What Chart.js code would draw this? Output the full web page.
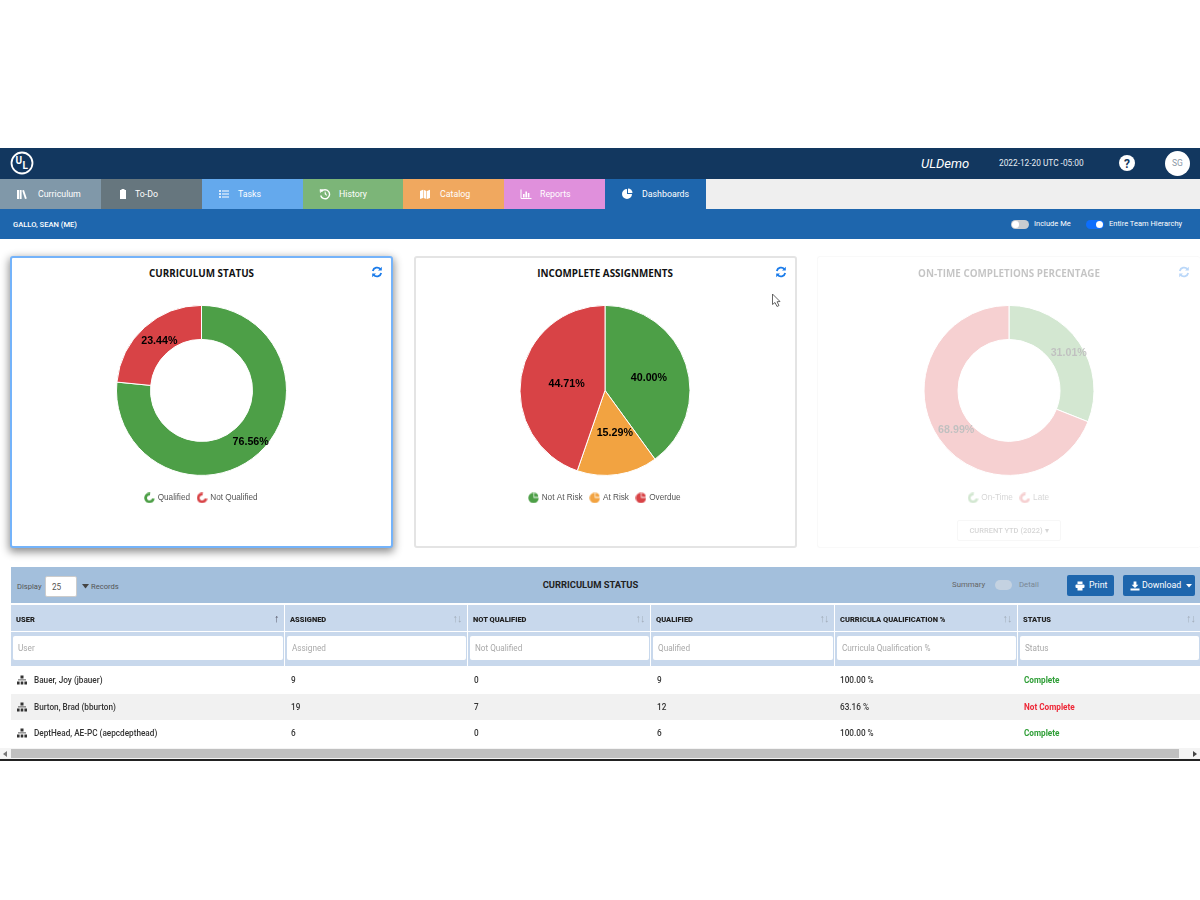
<!DOCTYPE html>
<html>
<head>
<meta charset="utf-8">
<title>Dashboards</title>
<script src="https://cdn.jsdelivr.net/npm/chart.js@4"></script>
<style>
  html, body { margin: 0; padding: 0; background: #fff; }
  body { width: 1200px; height: 900px; position: relative; overflow: hidden; font-family: Roboto, sans-serif; }
  .abs { position: absolute; }
  .box { position: absolute; box-sizing: border-box; }
  .txt { position: absolute; white-space: nowrap; line-height: 1; }
  .tab { position: absolute; top: 179px; height: 30px; color: #fff; font-size: 8.8px; line-height: 30px; }
  .tab span { position: absolute; }
  .tab svg { position: absolute; left: 16px; top: 8.5px; }
  .card-title { position: absolute; top: 265.5px; font: bold 9.85px "Open Sans", sans-serif; color: #111; white-space: nowrap; text-align: center; }
  canvas { position: absolute; }
  .hcell { position: absolute; top: 605px; height: 26px; background: #c8d8ec; font-size: 7.5px; font-weight: bold; line-height: 29px; color: #222; }
  .hcell b { position: absolute; left: 5px; }
  .hcell i { position: absolute; right: 5px; top: 0; font-style: normal; font-weight: normal; color: #a2adba; font-size: 11px; line-height: 27px; letter-spacing: -1px; }
  .fcell { position: absolute; top: 632px; height: 34px; background: #c8d8ec; }
  .fcell div { position: absolute; left: 2px; right: 1px; top: 4px; height: 24px; background: #fff; border-radius: 2px; color: #a9a9a9; font-size: 8.2px; line-height: 25px; padding-left: 5px; }
  .row { position: absolute; left: 11px; width: 1189px; height: 26px; }
  .cell { position: absolute; font-size: 8.2px; line-height: 26px; color: #333; font-weight: 500; white-space: nowrap; }
  .toggle { position: absolute; border-radius: 7px; }
</style>
</head>
<body>

<!-- top bar -->
<div class="box" style="left:0;top:148px;width:1200px;height:31px;background:#12375f"></div>
<svg class="abs" style="left:10px;top:151px" width="25" height="25" viewBox="0 0 25 25">
  <circle cx="12" cy="12" r="10.5" fill="none" stroke="#fff" stroke-width="1.8"/>
  <text x="5.5" y="13" font-size="10" font-weight="bold" fill="#fff" font-family="Roboto">U</text>
  <text x="12.5" y="18" font-size="10" font-weight="bold" fill="#fff" font-family="Roboto">L</text>
</svg>
<div class="txt" style="left:921px;top:157px;font-size:13px;font-style:italic;color:#fff">ULDemo</div>
<div class="txt" style="left:999px;top:159px;font-size:8.3px;color:#e8eef5">2022-12-20 UTC -05:00</div>
<svg class="abs" style="left:1119px;top:155px" width="16" height="16" viewBox="0 0 16 16">
  <circle cx="8" cy="8" r="8" fill="#fff"/>
  <text x="8" y="12.5" text-anchor="middle" font-size="12" font-weight="bold" fill="#12375f" font-family="Roboto">?</text>
</svg>
<div class="box" style="left:1165px;top:151px;width:25px;height:25px;border-radius:50%;background:#fff"></div>
<div class="txt" style="left:1172px;top:159px;font-size:8.5px;color:#8a97a5">SG</div>

<!-- nav tabs, filled in from navLabels -->
<div id="tabs"></div>
<div class="box" style="left:706px;top:179px;width:494px;height:30px;background:#efefef"></div>

<!-- blue strip -->
<div class="box" style="left:0;top:209px;width:1200px;height:30px;background:#1e66ad"></div>
<div class="txt" style="left:13px;top:221px;font-size:7.6px;font-weight:500;color:#fff">GALLO, SEAN (ME)</div>
<div class="toggle" style="left:1011px;top:220px;width:18px;height:9px;background:#c9ccd0"></div>
<div class="toggle" style="left:1012px;top:221px;width:7px;height:7px;background:#fff"></div>
<div class="txt" style="left:1034px;top:220px;font-size:7.5px;color:#fff">Include Me</div>
<div class="toggle" style="left:1086px;top:220px;width:18px;height:9px;background:#0d6efd"></div>
<div class="toggle" style="left:1096px;top:221px;width:7px;height:7px;background:#fff"></div>
<div class="txt" style="left:1109px;top:220px;font-size:7.5px;color:#fff">Entire Team Hierarchy</div>

<!-- card 1 -->
<div class="box" style="left:10px;top:256px;width:383px;height:292px;background:#fff;border:2.5px solid #74b3fa;border-radius:3px;box-shadow:0 3px 9px 1px rgba(0,0,0,.45)"></div>
<div class="card-title" style="left:11px;width:381px">CURRICULUM STATUS</div>
<canvas id="chartStatus" style="left:11px;top:295px" width="381" height="217"></canvas>

<!-- card 2 -->
<div class="box" style="left:413.5px;top:255.5px;width:383.5px;height:292.5px;background:#fff;border:2px solid #e4e4e4;border-radius:3px"></div>
<div class="card-title" style="left:414px;width:382px">INCOMPLETE ASSIGNMENTS</div>
<canvas id="chartAssign" style="left:414px;top:295px" width="382" height="217"></canvas>
<svg class="abs" style="left:771px;top:293px" width="11" height="15" viewBox="0 0 11 15">
  <path d="M1.5 1 L1.5 11.5 L4 9.5 L6 13.5 L8 12.5 L6 8.8 L9 8.5 Z" fill="#fff" stroke="#555" stroke-width="0.9"/>
</svg>

<!-- card 3, faded -->
<div class="abs" style="left:0;top:0;width:1200px;height:900px;opacity:.25;pointer-events:none">
  <div class="box" style="left:817px;top:256px;width:383px;height:292px;border:1.5px solid #e4e4e4;border-right:none;border-radius:3px"></div>
  <div class="card-title" style="left:818px;width:382px">ON-TIME COMPLETIONS PERCENTAGE</div>
  <canvas id="chartOnTime" style="left:818px;top:295px" width="382" height="217"></canvas>
  <div class="box" style="left:957px;top:520px;width:104px;height:21px;border:1px solid #ddd;border-radius:2px;font-size:7.5px;font-weight:500;line-height:19px;text-align:center;color:#555">CURRENT YTD (2022) ▾</div>
</div>

<!-- refresh icons -->
<svg class="abs refresh" style="left:370.5px;top:266px" width="12" height="12" viewBox="0 0 12 12"></svg>
<svg class="abs refresh" style="left:774.5px;top:266px" width="12" height="12" viewBox="0 0 12 12"></svg>
<svg class="abs refresh" style="left:1177.5px;top:266px;opacity:.3" width="12" height="12" viewBox="0 0 12 12"></svg>

<!-- table toolbar -->
<div class="box" style="left:11px;top:567px;width:1189px;height:36px;background:#a3bfdc"></div>
<div class="txt" style="left:17px;top:583px;font-size:7.6px;color:#555">Display</div>
<div class="box" style="left:45px;top:576px;width:32px;height:21px;background:#fff;border:1px solid #ccc;border-radius:2px;font-size:8.2px;line-height:20px;padding-left:6px;color:#555">25</div>
<svg class="abs" style="left:82px;top:584px" width="7" height="5" viewBox="0 0 7 5"><path d="M0 0 H7 L3.5 4.5 Z" fill="#444"/></svg>
<div class="txt" style="left:91px;top:583px;font-size:7.6px;color:#555">Records</div>
<div class="txt" style="left:11px;width:1159px;top:580px;font-size:9.4px;font-weight:bold;color:#222;text-align:center">CURRICULUM STATUS</div>
<div class="txt" style="left:952px;top:581px;font-size:7.8px;color:#666">Summary</div>
<div class="toggle" style="left:995px;top:580px;width:17px;height:10px;background:#c4d2e1"></div>
<div class="txt" style="left:1019px;top:581px;font-size:7.8px;color:#7a8794">Detail</div>
<div class="box" style="left:1067px;top:575px;width:47px;height:21px;background:#1e66ad;border-radius:2px;color:#fff;font-size:8.8px;line-height:21px;padding-left:22px">Print</div>
<svg class="abs" style="left:1075px;top:581px" width="10" height="10" viewBox="0 0 10 10">
  <g fill="#fff"><rect x="2.5" y="0.5" width="5" height="2.5"/><rect x="0.5" y="3.5" width="9" height="3.5" rx="1"/><rect x="2.5" y="6" width="5" height="3.5"/></g>
</svg>
<div class="box" style="left:1123px;top:575px;width:72px;height:21px;background:#1e66ad;border-radius:2px;color:#fff;font-size:8.8px;line-height:21px;padding-left:19px;white-space:nowrap">Download</div>
<svg class="abs" style="left:1130px;top:581px" width="10" height="10" viewBox="0 0 10 10">
  <path d="M3.6 0.5 H6.4 V3.8 H8.4 L5 7 L1.6 3.8 H3.6 Z M0.5 7.5 H9.5 V9.5 H0.5 Z" fill="#fff"/>
</svg>
<svg class="abs" style="left:1186px;top:584px" width="6" height="4" viewBox="0 0 6 4"><path d="M0 0 H6 L3 3.5 Z" fill="#fff"/></svg>

<div id="table"></div>

<!-- scrollbar -->
<div class="box" style="left:0;top:748px;width:1200px;height:11px;background:#f4f4f4"></div>
<div class="box" style="left:11px;top:749px;width:1168px;height:9px;background:#c0c0c0"></div>
<svg class="abs" style="left:3px;top:751px" width="4" height="6" viewBox="0 0 4 6"><path d="M4 0 V6 L0 3 Z" fill="#777"/></svg>
<svg class="abs" style="left:1193px;top:751px" width="4" height="6" viewBox="0 0 4 6"><path d="M0 0 V6 L4 3 Z" fill="#444"/></svg>
<div class="box" style="left:0;top:759px;width:1200px;height:1.5px;background:#222"></div>

<script>
// Nav tabs
const navLabels = ['Curriculum', 'To-Do', 'Tasks', 'History', 'Catalog', 'Reports', 'Dashboards'];
const navColors = ['#8098a9', '#66767e', '#64a9ed', '#7cb578', '#f0a85f', '#e090dc', '#1e66ad'];
const navTextLeft = [38, 34, 36, 36, 37, 36, 37];
const navIcons = [
  '<path d="M1 2 H3 V11 H1 Z M3.6 2 H5.6 V11 H3.6 Z M6.2 2.5 L8 2 L10.8 10.5 L9 11 Z" fill="#fff"/>',
  '<path d="M3 2 H4.5 V1 H7.5 V2 H9 V11 H3 Z" fill="#fff"/>',
  '<path d="M1 2.2 H3 V3.8 H1 Z M1 5.2 H3 V6.8 H1 Z M1 8.2 H3 V9.8 H1 Z M4 2.5 H11 V3.5 H4 Z M4 5.5 H11 V6.5 H4 Z M4 8.5 H11 V9.5 H4 Z" fill="#fff"/>',
  '<path d="M2.5 3.5 A4.5 4.5 0 1 1 1.7 7.5" fill="none" stroke="#fff" stroke-width="1.4"/><path d="M1 1.5 L4.2 1.8 L1.4 4.6 Z M6 3.5 V6.3 L8 7.5" fill="#fff" stroke="#fff" stroke-width="0.6"/>',
  '<path d="M1 3 L4 1.8 V10 L1 11 Z M4.6 1.8 L7.4 3 V11 L4.6 10 Z M8 3 L11 1.8 V10 L8 11 Z" fill="#fff"/>',
  '<path d="M1 1.5 V10.5 H11.5" fill="none" stroke="#fff" stroke-width="1"/><path d="M3 6 H4.6 V9.5 H3 Z M5.4 3.5 H7 V9.5 H5.4 Z M7.8 5 H9.4 V9.5 H7.8 Z" fill="#fff"/>',
  '<path d="M6 1 A5 5 0 1 0 11 6 H6 Z" fill="#fff"/><path d="M7 0.5 A4.5 4.5 0 0 1 11.5 5 H7 Z" fill="#fff"/>'
];

// Chart values, percent
const statusLabels = ['Qualified', 'Not Qualified'];
const statusValues = [76.56, 23.44];
const assignLabels = ['Not At Risk', 'At Risk', 'Overdue'];
const assignValues = [40.00, 15.29, 44.71];
const onTimeLabels = ['On-Time', 'Late'];
const onTimeValues = [31.01, 68.99];

// Table
const tableHeaders = ['USER', 'ASSIGNED', 'NOT QUALIFIED', 'QUALIFIED', 'CURRICULA QUALIFICATION %', 'STATUS'];
const tableFilters = ['User', 'Assigned', 'Not Qualified', 'Qualified', 'Curricula Qualification %', 'Status'];
const rowUsers = ['Bauer, Joy (jbauer)', 'Burton, Brad (bburton)', 'DeptHead, AE-PC (aepcdepthead)'];
const rowAssigned = [9, 19, 6];
const rowNotQualified = [0, 7, 0];
const rowQualified = [9, 12, 6];
const rowPercent = ['100.00 %', '63.16 %', '100.00 %'];
const rowStatus = ['Complete', 'Not Complete', 'Complete'];

const GREEN = '#4d9f47';
const RED = '#d84346';
const ORANGE = '#f2a341';

// Build tabs
const tabs = document.getElementById('tabs');
navLabels.forEach((label, i) => {
  const left = Math.round(i * 100.85);
  const tab = document.createElement('div');
  tab.className = 'tab';
  tab.style.left = left + 'px';
  tab.style.width = (Math.round((i + 1) * 100.85) - left) + 'px';
  tab.style.background = navColors[i];
  tab.innerHTML = `<svg width="12" height="12" viewBox="0 0 12 12">${navIcons[i]}</svg><span style="left:${navTextLeft[i]}px">${label}</span>`;
  tabs.appendChild(tab);
});

// Build table
const colEdges = [11, 285, 468, 651, 835, 1018, 1200];
const table = document.getElementById('table');
tableHeaders.forEach((h, i) => {
  const l = colEdges[i];
  const w = colEdges[i + 1] - l - (i < 5 ? 1.5 : 0);
  const arrow = i === 0 ? '<i style="color:#556">↑</i>' : '<i>↑↓</i>';
  table.insertAdjacentHTML('beforeend',
    `<div class="hcell" style="left:${l}px;width:${w}px"><b>${h}</b>${arrow}</div>` +
    `<div class="fcell" style="left:${l}px;width:${w}px"><div>${tableFilters[i]}</div></div>`);
});
rowUsers.forEach((u, r) => {
  const top = 667 + r * 26.5;
  const bg = r === 1 ? '#f1f1f1' : '#fff';
  table.insertAdjacentHTML('beforeend', `<div class="row" style="top:${top}px;background:${bg}"></div>`);
  const vals = [u, rowAssigned[r], rowNotQualified[r], rowQualified[r], rowPercent[r], rowStatus[r]];
  vals.forEach((v, c) => {
    const x = colEdges[c] + (c === 0 ? 23 : c === 4 ? 5 : 6);
    let color = '#333';
    if (c === 5) color = v === 'Complete' ? '#2e9e36' : '#ee2737';
    table.insertAdjacentHTML('beforeend',
      `<div class="cell" style="left:${x}px;top:${top}px;color:${color};font-weight:${c === 5 ? 700 : 500}">${v}</div>`);
  });
  table.insertAdjacentHTML('beforeend',
    `<svg class="abs" style="left:17px;top:${top + 8}px" width="10" height="10" viewBox="0 0 10 10"><g fill="#333"><rect x="3.5" y="0.5" width="3" height="3"/><rect x="0" y="6.5" width="2.6" height="3"/><rect x="3.7" y="6.5" width="2.6" height="3"/><rect x="7.4" y="6.5" width="2.6" height="3"/><rect x="1" y="4.5" width="8" height="0.8"/></g></svg>`);
});

// Refresh glyphs
document.querySelectorAll('.refresh').forEach(svg => {
  svg.innerHTML = '<g fill="none" stroke="#1a7bea" stroke-width="1.8"><path d="M1.8 5 A4.4 4.4 0 0 1 9.5 3.2"/><path d="M10.2 7 A4.4 4.4 0 0 1 2.5 8.8"/></g><path d="M10.8 0.8 V4.6 H7 Z M1.2 11.2 V7.4 H5 Z" fill="#1a7bea"/>';
});

// Small legend glyph, a ring or a disc with a notch
function legendIcon(color, ring) {
  const c = document.createElement('canvas');
  c.width = 11;
  c.height = 11;
  const g = c.getContext('2d');
  g.fillStyle = color;
  g.strokeStyle = color;
  if (ring) {
    g.lineWidth = 2.8;
    g.beginPath();
    g.arc(5.5, 5.5, 3.9, Math.PI * 0.05, Math.PI * 1.55);
    g.stroke();
  } else {
    g.beginPath();
    g.moveTo(5.5, 5.5);
    g.arc(5.5, 5.5, 5.2, 0, Math.PI * 1.5);
    g.closePath();
    g.fill();
    g.beginPath();
    g.moveTo(6.2, 4.6);
    g.arc(6.2, 4.6, 4, -Math.PI * 0.5, 0);
    g.closePath();
    g.fill();
  }
  return c;
}

// Draws the percent text on each slice
const sliceLabels = {
  id: 'sliceLabels',
  afterDatasetsDraw(chart) {
    const ctx = chart.ctx;
    const values = chart.data.datasets[0].data;
    ctx.save();
    ctx.font = 'bold 10.7px "Liberation Sans", Arial, sans-serif';
    ctx.fillStyle = '#000';
    ctx.textAlign = 'center';
    ctx.textBaseline = 'middle';
    chart.getDatasetMeta(0).data.forEach((arc, i) => {
      const p = arc.getCenterPoint();
      ctx.fillText(values[i].toFixed(2) + '%', p.x + 3.5, p.y + 1);
    });
    ctx.restore();
  }
};

function makeChart(id, type, labels, values, colors) {
  const ring = type === 'doughnut';
  new Chart(document.getElementById(id), {
    type: type,
    data: {
      labels: labels,
      datasets: [{
        data: values,
        backgroundColor: colors,
        borderColor: '#fff',
        borderWidth: 1
      }]
    },
    options: {
      responsive: false,
      animation: false,
      radius: 85,
      cutout: ring ? '60%' : 0,
      plugins: {
        tooltip: { enabled: false },
        legend: {
          position: 'bottom',
          labels: {
            usePointStyle: true,
            color: '#555',
            padding: 8,
            font: { family: '"Liberation Sans", Arial, sans-serif', size: 8.2 },
            generateLabels(chart) {
              const items = Chart.overrides.doughnut.plugins.legend.labels.generateLabels(chart);
              items.forEach((item, i) => { item.pointStyle = legendIcon(colors[i], ring); });
              return items;
            }
          }
        }
      }
    },
    plugins: [sliceLabels]
  });
}

makeChart('chartStatus', 'doughnut', statusLabels, statusValues, [GREEN, RED]);
makeChart('chartAssign', 'pie', assignLabels, assignValues, [GREEN, ORANGE, RED]);
makeChart('chartOnTime', 'doughnut', onTimeLabels, onTimeValues, [GREEN, RED]);
</script>
</body>
</html>
